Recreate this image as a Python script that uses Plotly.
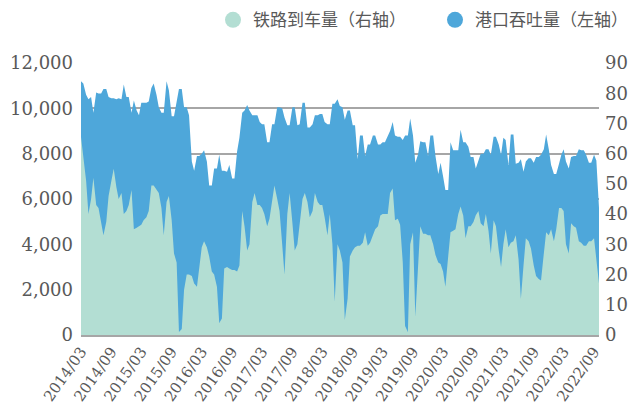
import pandas as pd
import plotly.graph_objects as go

# semi-monthly observation dates (1st and 15th), 2014/03 .. 2022/10
dates = pd.date_range("2014-03-01", periods=207, freq="SMS")

# 港口吞吐量（左轴）
port = [
    11200, 11100, 10600, 10400, 10500, 9800, 10700, 10650, 10650, 10850, 10850, 10500, 10450, 10450, 10400, 10450, 10400, 11050, 10500, 10500, 9800, 10350, 9900, 9700, 10250, 10250, 10250, 10300, 10900, 11100, 10600, 10050, 9800, 9800, 11200,
    10800, 9650, 9650, 10250, 10850, 10850, 10050, 10050, 9700, 7650, 7250, 7900, 7900, 8000, 8150, 7650, 6600, 6600, 7350, 7350, 7950, 7250, 7250, 7200, 7500, 6900, 6900, 8100, 8700, 9800, 9900, 10150, 9900, 9700, 9700,
    9700, 9400, 9300, 9300, 8500, 8500, 9300, 9300, 10050, 10050, 10000, 9600, 9250, 9250, 10050, 10050, 9250, 9300, 10250, 10250, 9150, 9150, 9300, 9700, 9700, 9750, 9750, 9400, 9300, 9300, 10200, 10200, 10400, 10100,
    10050, 9500, 9900, 9900, 9250, 9250, 7750, 8800, 8800, 7900, 8400, 8400, 8800, 8800, 8400, 8400, 8500, 8500, 8800, 9000, 9400, 8800, 8750, 8750, 8600, 8800, 8800, 9550, 8800, 7600, 7950, 8550, 8500, 8500, 7900,
    8800, 8800, 7900, 7100, 7600, 7000, 6400, 6400, 8500, 8150, 8150, 8150, 9050, 8500, 8500, 8300, 7850, 7850, 7350, 7750, 8000, 8000, 8200, 8200, 7950, 8750, 8750, 8400, 7950, 8700, 8600, 7500, 8850, 8850, 7550,
    7600, 7750, 7200, 7650, 7800, 7800, 7600, 7850, 7850, 7950, 8200, 8850, 8200, 7500, 7100, 7100, 7550, 7950, 8200, 7650, 7350, 7850, 7900, 7900, 8200, 8150, 8150, 7950, 7600, 7600, 7950, 7700, 5600,
]

# 铁路到车量（右轴）
rail = [
    65.5, 59.5, 51, 40, 45, 52, 43, 42, 37, 33, 37.5, 46, 51, 55, 49, 45, 47, 40, 41, 43, 48, 35, 35.5, 36, 36.5, 38, 39, 41, 49.5, 49.5, 48, 47, 42, 33, 44,
    46, 38, 27, 24, 1, 2, 15, 20, 20, 19.5, 17, 16, 23, 29, 31, 29, 26, 21, 20, 16, 4, 5.5, 22, 22.5, 22, 21.5, 21.5, 21, 23, 41, 36, 28, 30, 44, 47,
    43, 43, 42, 40, 36, 38.5, 44, 49.5, 45, 41, 30, 20, 40, 47, 37, 28, 30, 36, 45, 47, 44, 39, 41, 47, 44, 43, 43, 39, 33, 40, 30, 11, 30, 28,
    24, 5, 12, 26, 28, 29, 29.5, 29.5, 30.5, 34, 29.5, 30.5, 33, 35, 36, 39.5, 40, 40, 40, 47, 48.5, 38, 38.5, 36.5, 24, 3, 1, 30, 34, 6, 20, 36, 33.5, 33.5, 33,
    33, 30, 26.5, 24, 23.5, 21, 16, 26, 34, 34.5, 35, 40, 42.5, 39.5, 32, 36, 36, 37.4, 39.6, 41, 37, 36, 40, 34.5, 27, 38, 36, 28, 22.5, 30, 35, 29, 30.5, 31, 33,
    25, 12, 23, 32, 31, 28.6, 23, 19.5, 18.5, 18, 27, 34, 33, 35, 31, 35, 42, 42, 41, 30, 27, 37, 36, 35.5, 31, 30.5, 29.5, 29.5, 31, 31, 32, 24, 17,
]

tick_dates = [f"{y}-{m:02d}-01" for y in range(2014, 2023) for m in (3, 9)]
tick_labels = [f"{y}/{m:02d}" for y in range(2014, 2023) for m in (3, 9)]

BLUE = "#4EA7DA"
GREEN = "#B3DED3"
TXT = "#595959"
GRID = "#A6A6A6"

fig = go.Figure()
fig.add_trace(go.Scatter(x=dates, y=port, mode="lines", fill="tozeroy",
                         line=dict(width=0, color=BLUE), fillcolor=BLUE,
                         showlegend=False, hoverinfo="skip", yaxis="y"))
fig.add_trace(go.Scatter(x=dates, y=rail, mode="lines", fill="tozeroy",
                         line=dict(width=0, color=GREEN), fillcolor=GREEN,
                         showlegend=False, hoverinfo="skip", yaxis="y2"))
# legend entries (circle markers)
fig.add_trace(go.Scatter(x=[None], y=[None], mode="markers", name="铁路到车量（右轴）",
                         marker=dict(symbol="circle", size=18, color=GREEN), legend="legend"))
fig.add_trace(go.Scatter(x=[None], y=[None], mode="markers", name="港口吞吐量（左轴）",
                         marker=dict(symbol="circle", size=18, color=BLUE), legend="legend2"))

legend_common = dict(orientation="h", xanchor="left", y=1.157, yanchor="middle",
                     font=dict(family="Noto Sans CJK SC", size=17, color=TXT),
                     bgcolor="rgba(0,0,0,0)", itemclick=False, itemdoubleclick=False)

fig.update_layout(
    width=634, height=405,
    margin=dict(l=81, r=35, t=63, b=70, autoexpand=False),
    paper_bgcolor="white", plot_bgcolor="white",
    font=dict(family="DejaVu Serif", size=17, color=TXT),
    showlegend=True,
    legend=dict(x=0.2548, **legend_common),
    legend2=dict(x=0.6834, **legend_common),
    xaxis=dict(type="date", range=[dates[0], dates[-1]], automargin=False,
               tickmode="array", tickvals=tick_dates, ticktext=tick_labels,
               tickangle=-55, showgrid=False, zeroline=False,
               showline=True, linecolor=GRID, linewidth=1.5, ticks="",
               tickfont=dict(family="DejaVu Serif", size=15, color=TXT)),
    yaxis=dict(range=[0, 12000], dtick=2000, tickformat=",", showgrid=True, automargin=False,
               gridcolor=GRID, gridwidth=1.5, zeroline=False, showline=False,
               ticks="", ticklabelstandoff=7,
               tickfont=dict(family="DejaVu Serif", size=18, color=TXT)),
    yaxis2=dict(range=[0, 90], dtick=10, overlaying="y", side="right", automargin=False,
                showgrid=False, zeroline=False, showline=False, ticks="",
                ticklabelstandoff=5,
                tickfont=dict(family="DejaVu Serif", size=18, color=TXT)),
    hovermode=False,
)

fig.write_html("out.html", config={"displayModeBar": False},
               post_script="document.body.style.margin='0';document.body.style.overflow='hidden';")
